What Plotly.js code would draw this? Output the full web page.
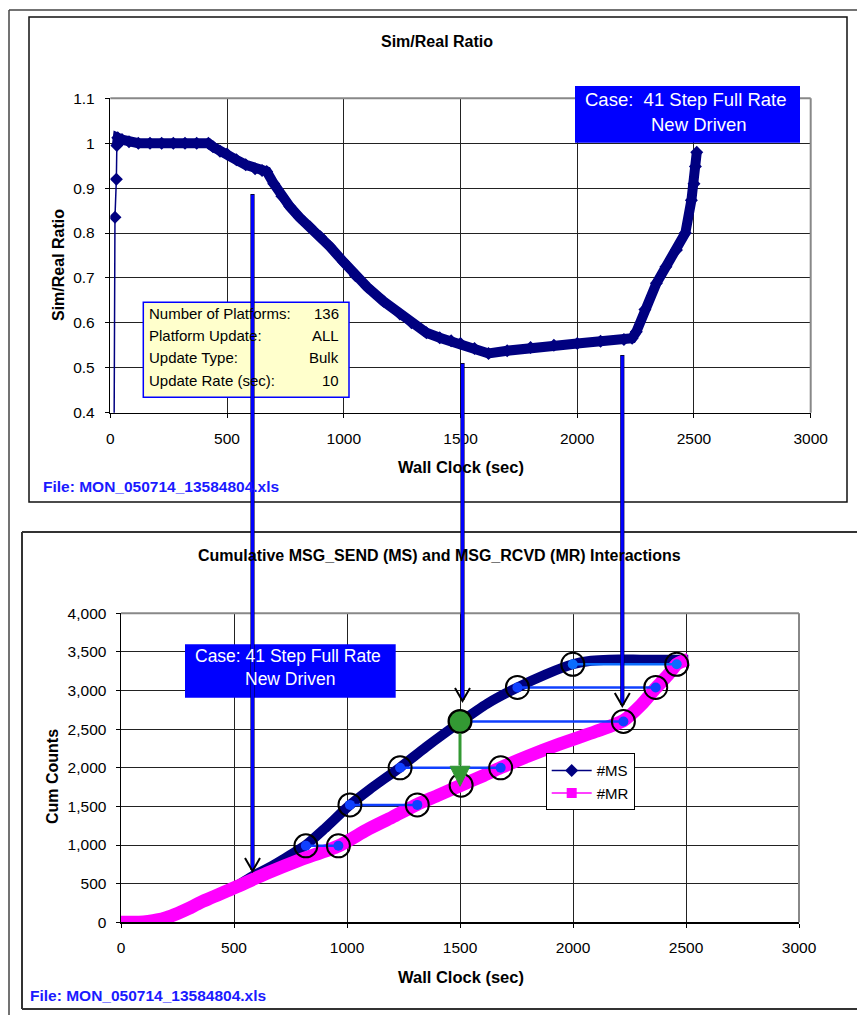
<!DOCTYPE html>
<html>
<head>
<meta charset="utf-8">
<script src="https://cdn.plot.ly/plotly-3.0.1.min.js"></script>
<style>html,body{margin:0;padding:0;background:#fff;}#chart{width:857px;height:1015px;}</style>
</head>
<body>
<div id="chart"></div>
<script>
// ---------- DATA ----------
// Top chart: Sim/Real Ratio vs Wall Clock (sec)
const ratioTime  = [15, 20, 26, 28, 32, 50, 80, 120, 170, 220, 270, 320, 370, 420, 440, 470, 500, 540, 580, 620, 650, 670, 700, 735, 769, 810, 855, 900, 940, 1000, 1050, 1100, 1170, 1240, 1290, 1354, 1411, 1460, 1500, 1560, 1620, 1700, 1800, 1900, 2000, 2100, 2200, 2235, 2253, 2290, 2339, 2380, 2425, 2463, 2489, 2500, 2506, 2512];
const ratioValue = [0.2, 0.835, 0.92, 0.995, 1.012, 1.008, 1.003, 1.0, 1.0, 1.0, 1.0, 1.0, 1.0, 1.0, 0.992, 0.982, 0.976, 0.963, 0.952, 0.943, 0.939, 0.937, 0.91, 0.882, 0.859, 0.835, 0.814, 0.792, 0.770, 0.735, 0.705, 0.68, 0.648, 0.62, 0.60, 0.578, 0.567, 0.56, 0.554, 0.543, 0.532, 0.538, 0.545, 0.55, 0.554, 0.559, 0.563, 0.566, 0.58, 0.63, 0.688, 0.725, 0.762, 0.80, 0.873, 0.91, 0.948, 0.98];

// Bottom chart: cumulative counts
const msTime  = [0, 80, 120, 160, 200, 250, 300, 400, 500, 584, 650, 720, 818, 900, 1013, 1100, 1235, 1350, 1500, 1620, 1754, 1880, 1999, 2080, 2160, 2300, 2420, 2510];
const msCount = [0, 2, 12, 30, 60, 115, 180, 315, 450, 600, 700, 820, 1000, 1210, 1520, 1720, 2005, 2270, 2590, 2830, 3040, 3210, 3340, 3385, 3400, 3400, 3400, 3400];
const mrTime  = [0, 80, 120, 160, 200, 250, 300, 350, 504, 645, 792, 962, 1087, 1200, 1311, 1400, 1505, 1600, 1680, 1800, 1943, 2100, 2223, 2300, 2366, 2420, 2459, 2490, 2510];
const mrCount = [0, 2, 12, 30, 60, 115, 180, 255, 450, 634, 808, 988, 1195, 1360, 1528, 1640, 1775, 1895, 2002, 2150, 2310, 2470, 2611, 2810, 3030, 3200, 3341, 3385, 3400];

// Highlighted MS -> MR pairs (same count level)
const pairCount  = [990, 1520, 2000, 2600, 3040, 3340];
const pairMsTime = [818, 1013, 1235, 1500, 1754, 1999];
const pairMrTime = [962, 1311, 1680, 2223, 2366, 2459];
const pairColor  = ['#1040ff', '#1040ff', '#1040ff', '#1040ff', '#1040ff', '#0a6cff'];
const greenIndex = 3;                 // pair drawn with green marker
const greenTarget = {t: 1505, c: 1775}; // MR point the green arrow points to

const infoLabels = ['Number of Platforms:', 'Platform Update:', 'Update Type:', 'Update Rate (sec):'];
const infoValues = ['136', 'ALL', 'Bulk', '10'];
const xTicks = [0, 500, 1000, 1500, 2000, 2500, 3000];

// ---------- LAYOUT HELPERS ----------
const W = 857, H = 1015;
const X = p => p / W;
const Y = p => 1 - p / H;
const FONT = 'Liberation Sans, Arial, sans-serif';
const NAVY = '#000080', MAG = '#ff00ff';

const traces = [];
// top: thick band + thin line with diamonds
traces.push({x: ratioTime.slice(3), y: ratioValue.slice(3), xaxis: 'x', yaxis: 'y', mode: 'lines',
  line: {color: NAVY, width: 10}, showlegend: false, hoverinfo: 'skip'});
traces.push({x: ratioTime, y: ratioValue, xaxis: 'x', yaxis: 'y', mode: 'lines+markers',
  line: {color: NAVY, width: 1.5}, marker: {symbol: 'diamond', size: 10, color: NAVY}, showlegend: false, hoverinfo: 'skip'});

// bottom: MS and MR bands
traces.push({x: msTime, y: msCount, xaxis: 'x2', yaxis: 'y2', mode: 'lines',
  line: {color: NAVY, width: 10, shape: 'spline', smoothing: 0.6}, showlegend: false, hoverinfo: 'skip'});
traces.push({x: mrTime, y: mrCount, xaxis: 'x2', yaxis: 'y2', mode: 'lines',
  line: {color: MAG, width: 13, shape: 'spline', smoothing: 0.6}, showlegend: false, hoverinfo: 'skip'});

// connectors
pairCount.forEach((c, i) => {
  traces.push({x: [pairMsTime[i], pairMrTime[i]], y: [c, c], xaxis: 'x2', yaxis: 'y2', mode: 'lines',
    line: {color: pairColor[i], width: 2.5}, showlegend: false, hoverinfo: 'skip'});
});
// blue dots
const dotX = [], dotY = [], dotC = [];
pairCount.forEach((c, i) => {
  if (i !== greenIndex) { dotX.push(pairMsTime[i]); dotY.push(c); dotC.push(pairColor[i]); }
  dotX.push(pairMrTime[i]); dotY.push(c); dotC.push(pairColor[i]);
});
traces.push({x: dotX, y: dotY, xaxis: 'x2', yaxis: 'y2', mode: 'markers',
  marker: {symbol: 'circle', size: 10, color: dotC}, showlegend: false, hoverinfo: 'skip'});
// open black circles
traces.push({x: pairMsTime.concat(pairMrTime, [greenTarget.t]), y: pairCount.concat(pairCount, [greenTarget.c]),
  xaxis: 'x2', yaxis: 'y2', mode: 'markers',
  marker: {symbol: 'circle-open', size: 23, color: '#000', line: {width: 2, color: '#000'}}, showlegend: false, hoverinfo: 'skip'});
// green arrow shaft
traces.push({x: [pairMsTime[greenIndex], greenTarget.t - 5], y: [pairCount[greenIndex], 2030], xaxis: 'x2', yaxis: 'y2', mode: 'lines',
  line: {color: '#339933', width: 3}, showlegend: false, hoverinfo: 'skip'});
// green circle
traces.push({x: [pairMsTime[greenIndex]], y: [pairCount[greenIndex]], xaxis: 'x2', yaxis: 'y2', mode: 'markers',
  marker: {symbol: 'circle', size: 22, color: '#339933', line: {width: 1.5, color: '#000'}}, showlegend: false, hoverinfo: 'skip'});

// legend entries
traces.push({x: [null], y: [null], xaxis: 'x2', yaxis: 'y2', mode: 'lines+markers', name: '#MS', legendgroup: 'a',
  line: {color: NAVY, width: 1.5}, marker: {symbol: 'diamond', size: 10, color: NAVY}});
traces.push({x: [null], y: [null], xaxis: 'x2', yaxis: 'y2', mode: 'lines+markers', name: '#MR', legendgroup: 'b',
  line: {color: MAG, width: 1.5}, marker: {symbol: 'square', size: 10, color: MAG}});

// ---------- SHAPES ----------
const shapes = [];
const line = (x0, y0, x1, y1, color, width) => shapes.push({type: 'line', xref: 'paper', yref: 'paper',
  x0: X(x0), y0: Y(y0), x1: X(x1), y1: Y(y1), line: {color: color, width: width}});
const rect = (x0, y0, x1, y1, fill, color, width) => shapes.push({type: 'rect', xref: 'paper', yref: 'paper',
  x0: X(x0), y0: Y(y0), x1: X(x1), y1: Y(y1), fillcolor: fill, line: {color: color, width: width}});

// outer frame
line(9, 10, 857, 10, '#444', 1.5);
line(9, 10, 9, 1015, '#444', 1.5);
// top panel frame
rect(29, 17, 847, 502, 'rgba(0,0,0,0)', '#111', 1.5);
// bottom panel frame
line(22, 532, 857, 532, '#333', 2);
line(22, 532, 22, 1009, '#333', 2);
line(22, 1009, 857, 1009, '#333', 2);
// plot area gray borders (top/right)
line(110.3, 98.3, 810.7, 98.3, '#888', 2);
line(810.7, 98.3, 810.7, 412.7, '#888', 2);
line(121, 613.3, 799, 613.3, '#888', 2);
line(799, 613.3, 799, 922.3, '#888', 2);
// text boxes
rect(143.3, 302.3, 349, 397.3, '#ffffcc', '#0000ff', 1.5);
rect(575, 86, 800, 142.7, '#0000ff', '#0000ff', 0);
rect(185, 644.3, 395.7, 697.7, '#0000ff', '#0000ff', 0);
// green arrowhead (data coords)
shapes.push({type: 'path', xref: 'x2', yref: 'y2',
  path: 'M 1456,2020 L 1544,2020 L 1500,1760 Z', fillcolor: '#339933', line: {color: '#339933', width: 1}});
// long blue arrows connecting the two charts
const arrows = [[252.5, 194, 871], [462.5, 363, 701], [622.3, 355, 706]];
arrows.forEach(a => {
  line(a[0], a[1], a[0], a[2] - 1, '#000040', 4.2);
  line(a[0], a[1] + 1, a[0], a[2] - 2, '#0000ff', 3);
  shapes.push({type: 'path', xref: 'paper', yref: 'paper',
    path: `M ${X(a[0]-7.5)},${Y(a[2]-13)} L ${X(a[0])},${Y(a[2])} L ${X(a[0]+7.5)},${Y(a[2]-13)}`,
    line: {color: '#000', width: 2}});
});

// ---------- ANNOTATIONS ----------
const ann = [];
const txt = (x, y, text, size, opts) => ann.push(Object.assign({xref: 'paper', yref: 'paper', x: X(x), y: Y(y),
  text: text, showarrow: false, xanchor: 'center', yanchor: 'middle', font: {family: FONT, size: size, color: '#000'}}, opts || {}));

txt(436.5, 41, '<b>Sim/Real Ratio</b>', 16);
txt(461, 467, '<b>Wall Clock (sec)</b>', 16.5);
txt(58, 265, '<b>Sim/Real Ratio</b>', 16, {textangle: -90});
txt(41, 486, '<b>File: MON_050714_13584804.xls</b>', 15.5, {xanchor: 'left', font: {family: FONT, size: 15.5, color: '#1a1aff'}});
txt(686, 99, 'Case:&nbsp; 41 Step Full Rate', 18.5, {font: {family: FONT, size: 18.5, color: '#fff'}});
txt(699, 124, 'New Driven', 18.5, {font: {family: FONT, size: 18.5, color: '#fff'}});
const infoY = [313.3, 335.7, 357.7, 380.3];
infoLabels.forEach((s, i) => txt(147, infoY[i], s, 15, {xanchor: 'left'}));
infoValues.forEach((s, i) => txt(341, infoY[i], s, 15, {xanchor: 'right'}));

txt(439.5, 555, '<b>Cumulative MSG_SEND (MS) and MSG_RCVD (MR) Interactions</b>', 16);
txt(460.5, 977, '<b>Wall Clock (sec)</b>', 16.5);
txt(52, 777, '<b>Cum Counts</b>', 16, {textangle: -90});
txt(28, 995, '<b>File: MON_050714_13584804.xls</b>', 15.5, {xanchor: 'left', font: {family: FONT, size: 15.5, color: '#1a1aff'}});
txt(288, 656, 'Case: 41 Step Full Rate', 17.5, {font: {family: FONT, size: 17.5, color: '#fff'}});
txt(290, 678.5, 'New Driven', 17.5, {font: {family: FONT, size: 17.5, color: '#fff'}});

const axisBase = {showgrid: true, gridcolor: '#222', gridwidth: 1, zeroline: false, showline: true,
  linecolor: '#000', linewidth: 1.5, ticks: 'outside', ticklen: 4, tickcolor: '#000', tickwidth: 1,
  tickfont: {family: FONT, size: 15.5, color: '#000'}, fixedrange: true};

const layout = {
  width: W, height: H, margin: {l: 0, r: 0, t: 0, b: 0},
  paper_bgcolor: '#fff', plot_bgcolor: '#fff',
  font: {family: FONT, color: '#000'},
  xaxis: Object.assign({}, axisBase, {domain: [X(110.3), X(810.7)], range: [0, 3000], tickvals: xTicks, anchor: 'y', ticklabelstandoff: 7}),
  yaxis: Object.assign({}, axisBase, {domain: [Y(412.7), Y(98.3)], range: [0.4, 1.1], dtick: 0.1, tick0: 0.4, anchor: 'x', ticklabelstandoff: 7}),
  xaxis2: Object.assign({}, axisBase, {domain: [X(121), X(799)], range: [0, 3000], tickvals: xTicks, anchor: 'y2', ticklabelstandoff: 7}),
  yaxis2: Object.assign({}, axisBase, {domain: [Y(922.3), Y(613.3)], range: [0, 4000], dtick: 500, tick0: 0, tickformat: ',d', anchor: 'x2', ticklabelstandoff: 6}),
  showlegend: true,
  legend: {x: X(545.7), y: Y(753.3), xanchor: 'left', yanchor: 'top', bgcolor: '#fff', bordercolor: '#000', borderwidth: 1,
    font: {family: FONT, size: 15, color: '#000'}, tracegroupgap: 8, itemwidth: 40, traceorder: 'normal'},
  shapes: shapes,
  annotations: ann
};

Plotly.newPlot('chart', traces, layout, {displayModeBar: false, staticPlot: true});
</script>
</body>
</html>
